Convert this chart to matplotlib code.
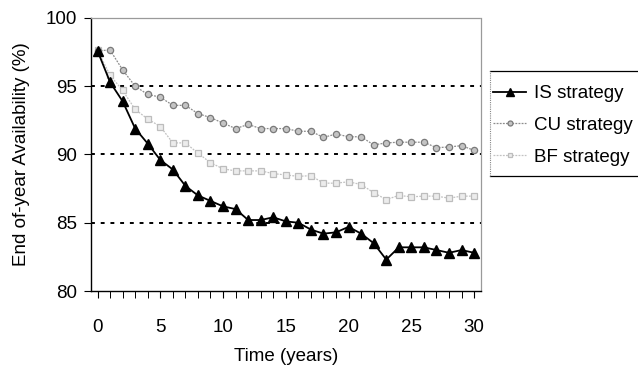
import numpy as np
import matplotlib
matplotlib.use("Agg")
import matplotlib.pyplot as plt
from matplotlib.lines import Line2D
from matplotlib.ticker import MultipleLocator

# Data (end-of-year availability, %)
years = np.arange(31)
is_vals = [97.6, 95.3, 93.9, 91.9, 90.8, 89.6, 88.9, 87.7, 87.0, 86.6, 86.2,
           86.0, 85.2, 85.2, 85.4, 85.1, 85.0, 84.5, 84.2, 84.3, 84.7,
           84.2, 83.5, 82.3, 83.2, 83.2, 83.2, 83.0, 82.8, 83.0, 82.8]
cu_vals = [97.6, 97.65, 96.2, 95.0, 94.4, 94.2, 93.6, 93.6, 93.0, 92.7, 92.3,
           91.9, 92.2, 91.9, 91.9, 91.9, 91.7, 91.7, 91.25, 91.5, 91.3,
           91.3, 90.7, 90.85, 90.9, 90.9, 90.9, 90.5, 90.55, 90.65, 90.3]
bf_vals = [97.65, 95.8, 94.7, 93.3, 92.6, 92.05, 90.85, 90.85, 90.1, 89.4, 88.95,
           88.8, 88.8, 88.8, 88.6, 88.5, 88.4, 88.45, 87.9, 87.9, 88.0,
           87.8, 87.2, 86.7, 87.0, 86.9, 86.95, 86.95, 86.8, 86.95, 86.95]
labels = ["IS strategy", "CU strategy", "BF strategy"]

plt.rcParams['font.family'] = ['Liberation Sans', 'DejaVu Sans']
fs = 13.5

fig = plt.figure(figsize=(6.38, 3.74), dpi=100)
ax = fig.add_axes([0.1426, 0.2219, 0.6114, 0.7300])

# dashed reference lines
for yv in [85, 90, 95]:
    ax.axhline(yv, color='black', lw=1.4, ls=(0, (2, 3)), zorder=1)

l_is, = ax.plot(years, is_vals, color='black', lw=1.3, marker='^',
                ms=6.5, mfc='black', mec='black', zorder=4)
l_cu, = ax.plot(years, cu_vals, color='#8c8c8c', lw=0.9, ls=(0, (1.5, 1)),
                marker='o', ms=4.5, mfc='#c4c4c4', mec='#7a7a7a', mew=0.9, zorder=3)
l_bf, = ax.plot(years, bf_vals, color='#c2c2c2', lw=0.9, ls=(0, (1.5, 1)),
                marker='s', ms=4.2, mfc='#ececec', mec='#bdbdbd', mew=0.9, zorder=2)

ax.set_xlim(-0.52, 30.55)
ax.set_ylim(80, 100)
ax.set_yticks([80, 85, 90, 95, 100])
ax.set_xticks([0, 5, 10, 15, 20, 25, 30])
ax.xaxis.set_minor_locator(MultipleLocator(1))
ax.tick_params(axis='both', which='major', labelsize=fs, length=5,
               width=0.8, direction='out', pad=5)
ax.tick_params(axis='x', which='minor', length=5, width=0.7, direction='out')
ax.tick_params(axis='x', which='major', pad=15)

ax.spines['left'].set_linewidth(1.0)
ax.spines['bottom'].set_linewidth(1.0)
for s in ['top', 'right']:
    ax.spines[s].set_color('#9a9a9a')
    ax.spines[s].set_linestyle((0, (1, 1)))
    ax.spines[s].set_linewidth(0.9)

ax.set_xlabel('Time (years)', fontsize=fs, labelpad=9)
ax.set_ylabel('End of-year Availability (%)', fontsize=fs, labelpad=11)

# legend sitting outside on the right, box running off the figure edge
leg = fig.legend([l_is, l_cu, l_bf], labels, loc='upper left',
                 bbox_to_anchor=(493 / 638, 1 - 85 / 374), frameon=False,
                 fontsize=fs, handlelength=1.76, handletextpad=0.45,
                 labelspacing=0.78, borderaxespad=0, borderpad=0,
                 markerscale=0.8)
x0, y_top, y_bot = 489.7 / 638, 1 - 70.7 / 374, 1 - 176 / 374
fig.add_artist(Line2D([x0, 1.0], [y_top, y_top], color='black', lw=0.9,
                      transform=fig.transFigure))
fig.add_artist(Line2D([x0, 1.0], [y_bot, y_bot], color='black', lw=0.9,
                      transform=fig.transFigure))
fig.add_artist(Line2D([x0, x0], [y_bot, y_top], color='#888888', lw=0.8,
                      ls=(0, (1, 1)), transform=fig.transFigure))

fig.savefig('out.png', dpi=100)
